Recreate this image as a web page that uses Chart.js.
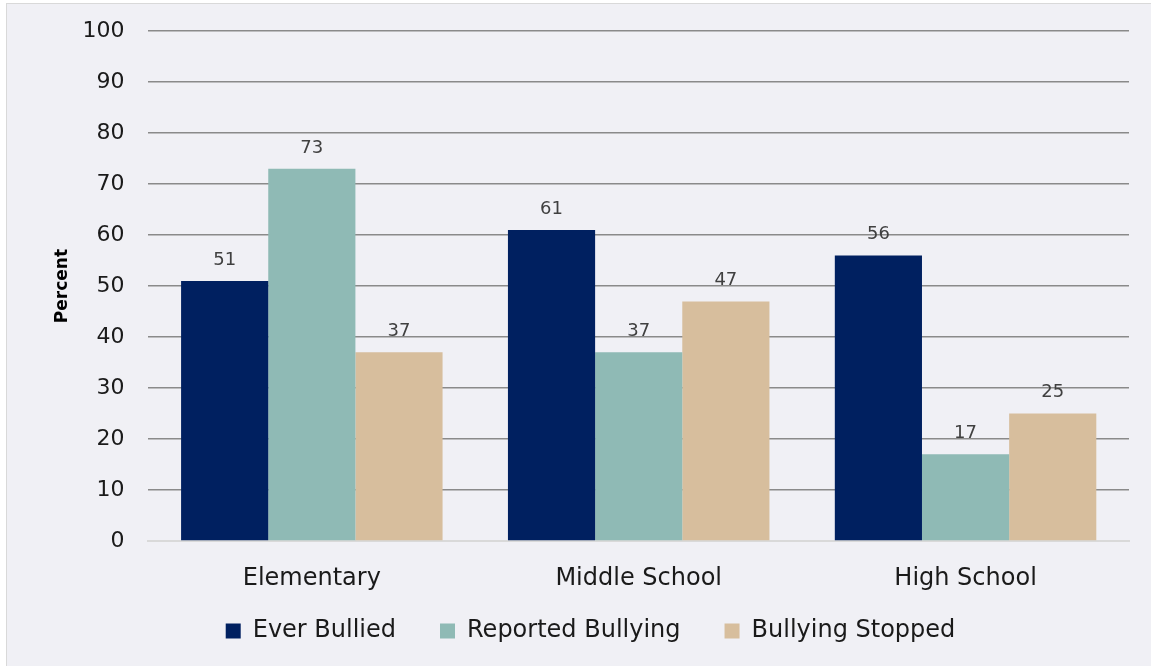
<!DOCTYPE html>
<html>
<head>
<meta charset="utf-8">
<script src="https://cdn.jsdelivr.net/npm/chart.js@4/dist/chart.umd.min.js"></script>
<style>
  html, body { margin: 0; padding: 0; background: #ffffff; }
  #panel {
    position: absolute; left: 6px; top: 3px; width: 1160px; height: 680px;
    background: #f0f0f5; border: 1px solid #d9d9d9;
  }
  #wrap { position: absolute; left: 0; top: 0; width: 1151px; height: 666px; }
</style>
</head>
<body>
<div id="panel"></div>
<div id="wrap"><canvas id="chart"></canvas></div>
<script>
const schools = ["Elementary", "Middle School", "High School"];
const everBullied = [51, 61, 56];
const reportedBullying = [73, 37, 17];
const bullyingStopped = [37, 47, 25];

const font = "'DejaVu Sans', sans-serif";

// draws the value above each bar
const barValues = {
  id: "barValues",
  afterDatasetsDraw(chart) {
    const ctx = chart.ctx;
    ctx.save();
    ctx.font = "18px " + font;
    ctx.fillStyle = "#404040";
    ctx.textAlign = "center";
    ctx.textBaseline = "bottom";
    chart.data.datasets.forEach((ds, i) => {
      chart.getDatasetMeta(i).data.forEach((bar, j) => {
        ctx.fillText(ds.data[j], bar.x, bar.y - 12);
      });
    });
    ctx.restore();
  },
};

// pull the legend up closer to the category labels
const legendLift = {
  id: "legendLift",
  afterLayout(chart) {
    const shift = 24;
    chart.legend.top -= shift;
    chart.legend.bottom -= shift;
  },
};

new Chart(document.getElementById("chart"), {
  type: "bar",
  plugins: [barValues, legendLift],
  data: {
    labels: schools,
    datasets: [
      { label: "Ever Bullied", data: everBullied, backgroundColor: "#002060" },
      { label: "Reported Bullying", data: reportedBullying, backgroundColor: "#8fbab5" },
      { label: "Bullying Stopped", data: bullyingStopped, backgroundColor: "#d7be9d" },
    ],
  },
  options: {
    responsive: true,
    maintainAspectRatio: false,
    animation: false,
    layout: {
      padding: { top: 2, right: 22, bottom: -11, left: 52 },
    },
    datasets: {
      bar: { categoryPercentage: 0.8, barPercentage: 1 },
    },
    plugins: {
      legend: {
        position: "bottom",
        labels: {
          boxWidth: 15,
          boxHeight: 15,
          padding: 44,
          color: "#1a1a1a",
          font: { family: font, size: 24 },
        },
      },
      tooltip: { enabled: false },
    },
    scales: {
      x: {
        grid: { display: false },
        border: { color: "#d9d9d9", width: 2 },
        ticks: {
          color: "#1a1a1a",
          padding: 15,
          font: { family: font, size: 24 },
        },
        afterFit(scale) {
          scale.height = 58;
        },
      },
      y: {
        min: 0,
        max: 100,
        ticks: {
          stepSize: 10,
          color: "#1a1a1a",
          padding: 18,
          font: { family: font, size: 22 },
        },
        border: { display: false },
        grid: {
          drawTicks: true,
          tickLength: 6,
          tickColor: "rgba(0,0,0,0)",
          lineWidth: 1.5,
          color: (c) => (c.tick && c.tick.value === 0 ? "#d9d9d9" : "#8a8a8a"),
        },
        title: {
          display: true,
          text: "Percent",
          color: "#000000",
          font: { family: font, size: 17, weight: "bold" },
          padding: { top: 0, bottom: 10 },
        },
        afterFit(scale) {
          scale.width -= 18;
        },
      },
    },
  },
});
</script>
</body>
</html>
